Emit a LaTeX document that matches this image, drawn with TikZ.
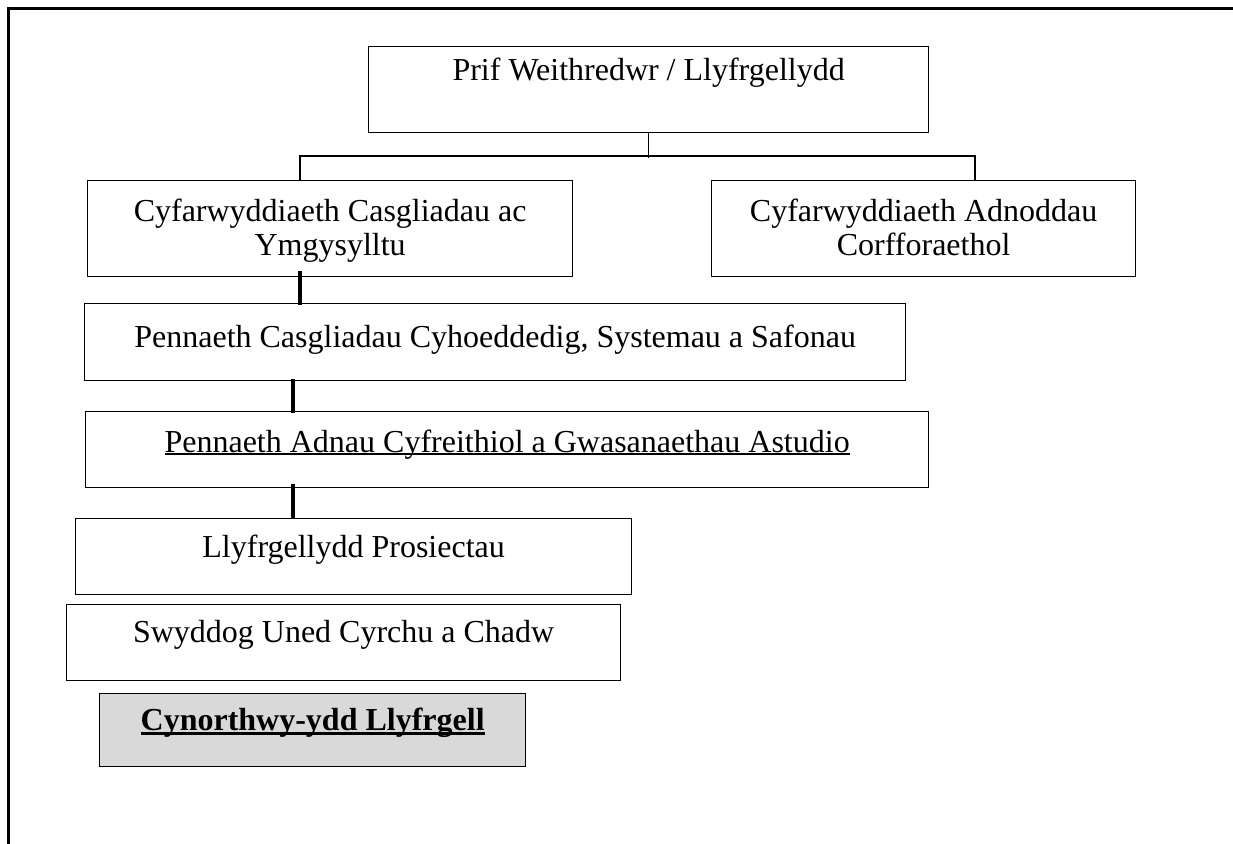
\documentclass[tikz,border=0pt]{standalone}
\usepackage{fontspec}
\setmainfont{Liberation Serif}
\usetikzlibrary{calc}
\definecolor{boxgray}{HTML}{D9D9D9}
\newcommand\myul[3]{\setbox0\hbox{#3}\rlap{\rule[-#1]{\wd0}{#2}}\box0}
\tikzset{
  box/.style={draw, line width=1.3pt, anchor=north west, inner sep=0pt},
  lbl/.style={anchor=base, inner sep=0pt, font=\fontsize{32}{37}\selectfont},
  conn/.style={line width=1.5pt},
  bconn/.style={line width=4.5pt},
  frame/.style={line width=3pt}
}
\begin{document}
\begin{tikzpicture}[x=1pt,y=-1pt]
\useasboundingbox (0,0) rectangle (1233,843);
\draw[frame] (8,845) -- (8,9) -- (1240,9);

% boxes
\node[box, minimum width=560pt, minimum height=86pt] (A) at (368,46) {};
\node[box, minimum width=485pt, minimum height=96pt] (B) at (87,180) {};
\node[box, minimum width=424pt, minimum height=96pt] (C) at (711,180) {};
\node[box, minimum width=821pt, minimum height=77pt] (D) at (84,303) {};
\node[box, minimum width=843pt, minimum height=76pt] (E) at (85,411) {};
\node[box, minimum width=556pt, minimum height=76pt] (F) at (75,518) {};
\node[box, minimum width=554pt, minimum height=76pt] (G) at (66,604) {};
\node[box, fill=boxgray, minimum width=426pt, minimum height=73pt] (H) at (99,693) {};

% labels
\node[lbl] (tA) at ($(A.north)+(0,35)$) {Prif Weithredwr / Llyfrgellydd};
\node[lbl] (tB1) at ($(B.north)+(0,41)$) {Cyfarwyddiaeth Casgliadau ac};
\node[lbl] (tB2) at ($(B.north)+(0,75)$) {Ymgysylltu};
\node[lbl] (tC1) at ($(C.north)+(0,41)$) {Cyfarwyddiaeth Adnoddau};
\node[lbl] (tC2) at ($(C.north)+(0,75)$) {Corfforaethol};
\node[lbl] (tD) at ($(D.north)+(0,44)$) {Pennaeth Casgliadau Cyhoeddedig, Systemau a Safonau};
\node[lbl] (tE) at ($(E.north)+(0,41)$) {\myul{3pt}{1.6pt}{Pennaeth Adnau Cyfreithiol a Gwasanaethau Astudio}};
\node[lbl] (tF) at ($(F.north)+(0,39)$) {Llyfrgellydd Prosiectau};
\node[lbl] (tG) at ($(G.north)+(0,38)$) {Swyddog Uned Cyrchu a Chadw};
\node[lbl] (tH) at ($(H.north)+(0,37)$) {\myul{5pt}{3pt}{\bfseries Cynorthwy-ydd Llyfrgell}};

% thin connectors
\coordinate (jL) at (300,156);
\coordinate (jR) at (975,156);
\draw[conn] (A.south) -- ([yshift=-2pt]A.south |- jL);
\draw[conn] (B.north -| jL) -- (jL) -- (jR) -- (C.north -| jR);

% thick connectors
\coordinate (t1) at (300,0);
\coordinate (t2) at (293,0);
\draw[bconn] ([yshift=6pt]B.south -| t1) -- ([yshift=-2pt]D.north -| t1);
\draw[bconn] ([yshift=2pt]D.south -| t2) -- ([yshift=-2pt]E.north -| t2);
\draw[bconn] ([yshift=4pt]E.south -| t2) -- (F.north -| t2);
\end{tikzpicture}
\end{document}
